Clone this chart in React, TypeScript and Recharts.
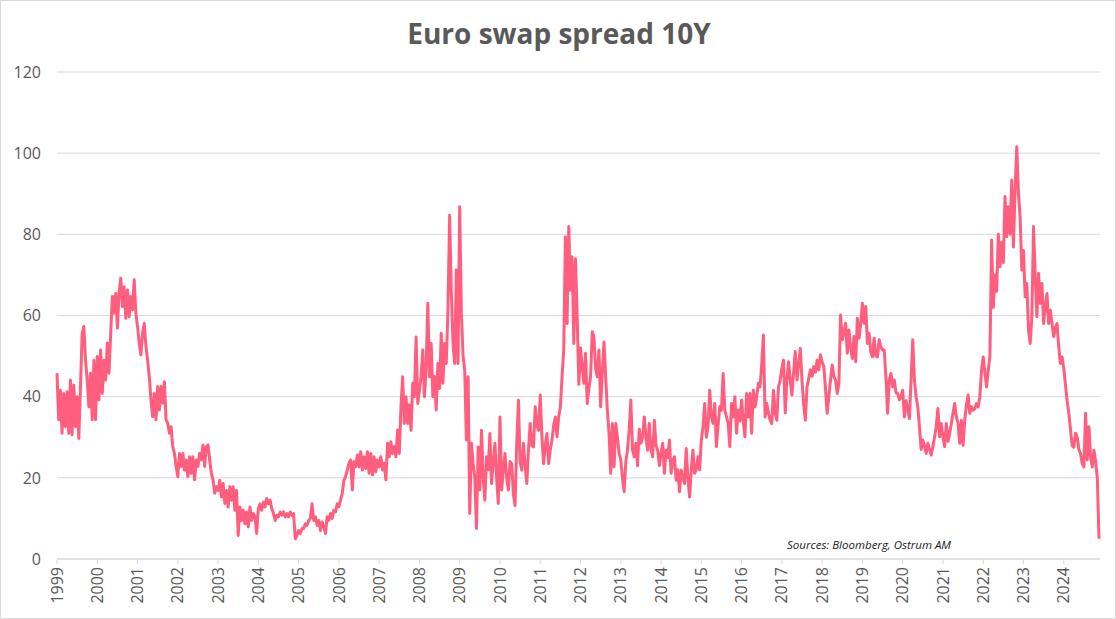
import { CartesianGrid, Line, LineChart, XAxis, YAxis } from "recharts";

// semi-monthly readings of the 10Y euro swap spread (bp), 24 per year
const v1999 = [45.8, 34.3, 41.6, 31, 40.8, 32.6, 41.2, 31, 44.1, 30.6, 42.9, 32.6, 40, 29.7, 42.5, 55.6, 57.3, 49, 44.1, 37.5, 45.8, 34.3, 49, 34.3];
const v2000 = [49.9, 39.2, 51.5, 40.8, 49, 44.1, 53.2, 45.8, 55.6, 64.7, 60.6, 65.5, 56.9, 65.5, 69.2, 62.2, 67.1, 59.3, 66.3, 59.7, 64.7, 61.4, 68.8, 60.6];
const v2001 = [57.3, 53.2, 50.3, 55.6, 58.1, 52.3, 49, 44.9, 39.2, 35.1, 40.8, 34.3, 42.5, 36.7, 42.5, 38.4, 43.7, 34.3, 33.4, 31, 32.6, 27.7, 26, 22.8];
const v2002 = [20.3, 26, 22.8, 26, 21.9, 24.4, 20.3, 25.2, 21.1, 25.2, 19.5, 24.4, 22.8, 26, 24.4, 28.1, 22.8, 27.7, 28.1, 24.4, 21.1, 19.5, 16.2, 17.8];
const v2003 = [16.9, 19.4, 15.3, 18.6, 13.7, 16.9, 12.8, 17.8, 14.5, 17.8, 12, 16.9, 5.8, 12.8, 9.5, 12, 8.7, 11.6, 7.9, 12.8, 9.5, 11.2, 10.4, 6.3];
const v2004 = [12.4, 13.6, 12, 14, 12.8, 14.9, 13.6, 14.5, 12.4, 11.2, 9.5, 10.8, 10.4, 11.6, 10.8, 11.6, 10.4, 11.2, 10.4, 11.6, 10.8, 11.2, 5, 5.8];
const v2005 = [7, 6.3, 7.5, 7.5, 8.7, 8.3, 9.5, 10, 13.6, 9.5, 10.4, 8.3, 9.5, 7, 9.1, 8, 6.3, 10.4, 9.5, 11.2, 10, 12, 11.6, 13.6];
const v2006 = [12.9, 14.5, 16.2, 19.4, 20.3, 21.9, 23.6, 24.4, 17, 24, 22.7, 25.6, 22.7, 26.4, 21.9, 25.2, 22.3, 26.4, 21.1, 26, 20.7, 25.2, 21.5, 24.4];
const v2007 = [22.7, 25.2, 21.9, 23.6, 19.5, 28.5, 25.2, 28.9, 26, 27.7, 25.2, 31.8, 26, 37.5, 44.9, 33.4, 40, 33.4, 38, 31.7, 43.3, 40, 54.7, 38.3];
const v2008 = [41.6, 45, 51.5, 40, 47, 63, 44.9, 53.1, 40, 45, 36.7, 48.2, 42, 55.6, 43.3, 53.1, 48.2, 61.3, 84.7, 66, 53.1, 48.2, 71.2, 48.2];
const v2009 = [86.8, 60.5, 50, 46.5, 29.3, 44.9, 11.2, 28.5, 23.5, 20, 7.5, 27.6, 17, 31.7, 20, 14.5, 25.2, 22, 30.9, 18.6, 24, 28.5, 20, 13.7];
const v2010 = [35, 17, 22, 26, 20, 17, 24, 23.5, 16, 13.2, 28.5, 39.1, 24, 21.9, 28.5, 23, 18.6, 27, 33.4, 28, 27.6, 37.5, 33, 31.7];
const v2011 = [40.4, 30.1, 23.5, 28, 30.9, 23.5, 27, 29.3, 33, 35, 30.1, 35, 37.5, 44.9, 51.5, 79.4, 58, 81.9, 66.2, 74.5, 53.1, 74, 60, 43];
const v2012 = [52, 47.4, 43.3, 50.7, 38.3, 42, 44.9, 56, 54.8, 47, 44.9, 51.5, 37.5, 46, 53.5, 44.9, 36.7, 31, 21.1, 33.4, 22.7, 33.4, 30, 26];
const v2013 = [24.4, 20, 16.6, 24, 26.8, 31.8, 39.2, 27, 25.2, 28.5, 23, 32, 28.5, 30, 35, 30, 26.8, 33.4, 27, 25.2, 34.2, 28, 26.8, 23];
const v2014 = [26, 28.5, 21.1, 26.8, 25, 29.3, 21.1, 24, 25.2, 19.4, 22, 16.6, 21.9, 20, 18.6, 27.2, 20, 15.3, 22, 26.8, 21.1, 22, 25.2, 22];
const v2015 = [29.3, 32.6, 38.3, 30, 32.6, 41.6, 35, 33.4, 38.3, 27.7, 33, 37.5, 36.7, 45.7, 36.7, 35, 33.4, 27.7, 38.3, 35, 40, 31, 36.7, 34];
const v2016 = [39.2, 34, 30.1, 40.8, 35, 40.8, 31, 41.6, 37.5, 40, 43.3, 42.4, 48, 55.2, 35, 38.3, 36, 34.2, 33.4, 41.6, 36, 34.2, 42.4, 44.1];
const v2017 = [47, 49, 36, 44.1, 48.6, 44, 40.4, 46, 51.1, 44.1, 48, 51.9, 44, 38, 34.2, 42.4, 44.5, 46.6, 45, 47.4, 46, 49, 46.6, 50.3];
const v2018 = [48.5, 47.4, 42, 35.9, 40, 44.1, 47.8, 45, 44.1, 40.8, 43.3, 60.1, 54, 56, 58.1, 50.7, 56.4, 52, 49.4, 54.8, 48.6, 59.3, 54.4, 58];
const v2019 = [63, 58.1, 62.2, 53.1, 55.6, 51, 49.8, 54.4, 50, 49.8, 54, 52.3, 51.5, 51.5, 44.9, 35.9, 44, 45.7, 42.4, 44.1, 41, 40.8, 39.2, 40];
const v2020 = [41.6, 35, 39, 37, 34.6, 44, 54, 44.1, 40, 37.5, 32.6, 27, 29.3, 28, 26, 28.5, 27, 25.6, 27.7, 30, 32.6, 37.1, 30.1, 33.4];
const v2021 = [30, 27.7, 33.4, 29, 30.9, 33.4, 36, 38.3, 35, 33.4, 28.5, 34.2, 28, 34.2, 38, 40.4, 35.9, 37.5, 36.7, 37, 38.3, 37.5, 40, 46.5];
const v2022 = [49.8, 46, 42.4, 46.5, 50, 78.6, 62, 70, 66, 80, 72, 78, 73, 89.3, 79.4, 86.8, 80, 93.4, 76.9, 90.9, 101.6, 90.1, 84.3, 71.2];
const v2023 = [76, 64.6, 67.9, 56.4, 53.1, 59.7, 81.9, 69.5, 59.7, 70.4, 63, 67.9, 58, 62.2, 65.4, 58, 61.3, 58, 54.8, 57, 58, 52.3, 48.2, 49.8];
const v2024 = [47, 43, 39, 36, 32, 28, 27.5, 31, 30, 27, 26, 23.5, 22.7, 35.9, 24.4, 32.6, 25, 22.7, 26.8, 24, 20, 5];

const years = [1999, 2000, 2001, 2002, 2003, 2004, 2005, 2006, 2007, 2008, 2009, 2010, 2011, 2012, 2013, 2014, 2015, 2016, 2017, 2018, 2019, 2020, 2021, 2022, 2023, 2024];
const yearly = [v1999, v2000, v2001, v2002, v2003, v2004, v2005, v2006, v2007, v2008, v2009, v2010, v2011, v2012, v2013, v2014, v2015, v2016, v2017, v2018, v2019, v2020, v2021, v2022, v2023, v2024];
const yTicks = [0, 20, 40, 60, 80, 100, 120];

const data: { t: number; v: number }[] = [];
yearly.forEach((vals, k) => {
  vals.forEach((v, i) => data.push({ t: years[k] + i / 24, v }));
});

const FONT = "'Open Sans', sans-serif";

function YearTick({ x, y, payload }: any) {
  return (
    <g transform={`translate(${x},${y})`}>
      <text transform="rotate(-90)" textAnchor="end" dy="0.35em" fill="#595959" fontSize={16} fontFamily={FONT}>
        {payload.value}
      </text>
    </g>
  );
}

export default function App() {
  return (
    <div style={{ position: "absolute", left: 0, top: 0, width: 1116, height: 619, background: "#fff", boxSizing: "border-box", border: "1px solid #d9d9d9" }}>
      <div style={{ position: "absolute", left: 0, top: 13, width: 1116, textAlign: "center", fontFamily: FONT, fontWeight: 700, fontSize: 28, color: "#595959" }}>
        Euro swap spread 10Y
      </div>
      <div style={{ position: "absolute", left: 786, top: 536, fontFamily: FONT, fontStyle: "italic", fontSize: 11.5, color: "#1a1a1a" }}>
        Sources: Bloomberg, Ostrum AM
      </div>
      <div style={{ position: "absolute", left: -1, top: -1 }}>
        <LineChart width={1116} height={619} data={data} margin={{ top: 72, right: 16, bottom: 0, left: 0 }}>
          <CartesianGrid vertical={false} stroke="#d9d9d9" />
          <XAxis
            dataKey="t"
            type="number"
            domain={[1999, 2024.9]}
            ticks={years}
            interval={0}
            height={60}
            tick={<YearTick />}
            tickSize={5}
            tickMargin={3}
            axisLine={{ stroke: "#d9d9d9" }}
            tickLine={{ stroke: "#d9d9d9" }}
          />
          <YAxis
            domain={[0, 120]}
            ticks={yTicks}
            width={57}
            tickSize={0}
            tickMargin={16}
            axisLine={false}
            tickLine={false}
            tick={{ fill: "#595959", fontSize: 16, fontFamily: FONT }}
          />
          <Line type="linear" dataKey="v" stroke="#FF5E7E" strokeWidth={3} dot={false} strokeLinejoin="round" isAnimationActive={false} />
        </LineChart>
      </div>
    </div>
  );
}
